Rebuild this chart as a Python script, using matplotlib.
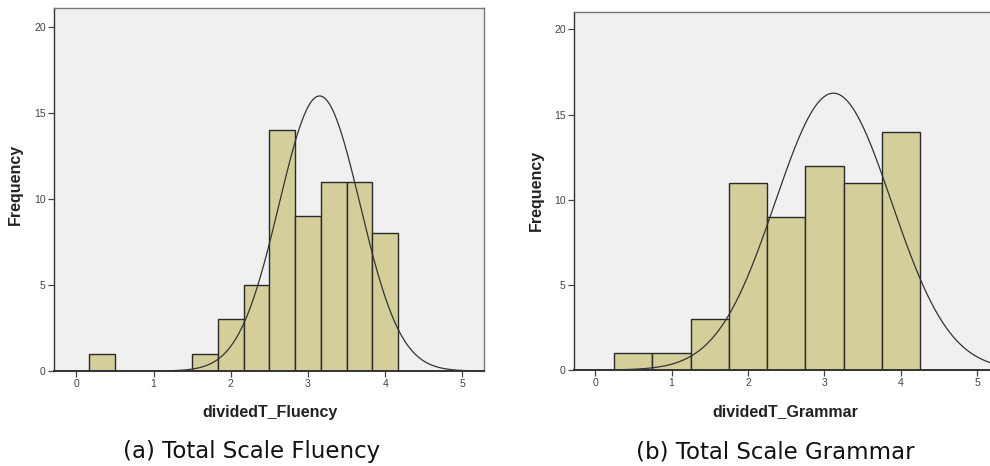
import numpy as np
import matplotlib
matplotlib.use("Agg")
import matplotlib.pyplot as plt

# ---- data ----
fluency_edges = [1/6, 1/2, 5/6, 7/6, 3/2, 11/6, 13/6, 5/2, 17/6, 19/6, 7/2, 23/6, 25/6]
fluency_counts = [1, 0, 0, 0, 1, 3, 5, 14, 9, 11, 11, 8]
fluency_mean, fluency_sd = 3.15, 0.524

grammar_edges = [0.25, 0.75, 1.25, 1.75, 2.25, 2.75, 3.25, 3.75, 4.25]
grammar_counts = [1, 1, 3, 11, 9, 12, 11, 14]
grammar_mean, grammar_sd = 3.117, 0.761

x_ticks = [0, 1, 2, 3, 4, 5]
y_ticks = [0, 5, 10, 15, 20]

bar_color = "#D4CF9A"
bg_color = "#F0F0F0"

fig = plt.figure(figsize=(9.9, 4.66), dpi=100)

def panel(rect, edges, counts, mean, sd, xlim, ylim, xlabel, label_coords):
    ax = fig.add_axes(rect)
    ax.set_facecolor(bg_color)
    edges = np.asarray(edges)
    widths = np.diff(edges)
    ax.bar(edges[:-1], counts, width=widths, align="edge", color=bar_color,
           edgecolor="#2a2a2a", linewidth=1.0, zorder=2)
    n = sum(counts)
    bw = widths.mean()
    xs = np.linspace(xlim[0], xlim[1] + 0.3, 600)
    ys = n * bw / (sd * np.sqrt(2 * np.pi)) * np.exp(-0.5 * ((xs - mean) / sd) ** 2)
    ax.plot(xs, ys, color="#333333", linewidth=0.9, zorder=3)
    ax.set_xlim(*xlim)
    ax.set_ylim(*ylim)
    ax.set_xticks(x_ticks)
    ax.set_yticks(y_ticks)
    ax.tick_params(axis="both", direction="out", length=4, width=0.9,
                   colors="#444444", labelsize=7.5, labelcolor="#444444", pad=2)
    for name, sp in ax.spines.items():
        sp.set_linewidth(1.0)
    ax.spines["left"].set_color("#333333")
    ax.spines["bottom"].set_color("#333333")
    ax.spines["bottom"].set_linewidth(1.4)
    ax.spines["top"].set_color("#777777")
    ax.spines["right"].set_color("#777777")
    ax.set_xlabel(xlabel, fontsize=11.5, fontweight="bold", color="#222222",
                  family="Liberation Sans")
    ax.set_ylabel("Frequency", fontsize=11.5, fontweight="bold", color="#222222",
                  family="Liberation Sans")
    ax.yaxis.set_label_coords(*label_coords[0])
    ax.xaxis.set_label_coords(*label_coords[1])
    for lab in ax.get_xticklabels() + ax.get_yticklabels():
        lab.set_family("Liberation Sans")
    return ax

panel([54/990, 1 - 371/466, 430/990, 363/466], fluency_edges, fluency_counts,
      fluency_mean, fluency_sd, (-0.29, 5.28), (0, 21.1), "dividedT_Fluency",
      ((-0.072, 0.514), (0.502, -0.095)))

panel([574/990, 1 - 370/466, 421/990, 357.7/466], grammar_edges, grammar_counts,
      grammar_mean, grammar_sd, (-0.275, 5.23), (0, 21.0), "dividedT_Grammar",
      ((-0.072, 0.501), (0.503, -0.095)))

fig.text(251.7/990, 1 - 451.7/466, "(a) Total Scale Fluency", ha="center", va="center",
         fontsize=16.5, color="#111111", family="DejaVu Sans")
fig.text(775.8/990, 1 - 451.7/466, "(b) Total Scale Grammar", ha="center", va="center",
         fontsize=16.5, color="#111111", family="DejaVu Sans")

fig.savefig("out.png", dpi=100, facecolor="white")
